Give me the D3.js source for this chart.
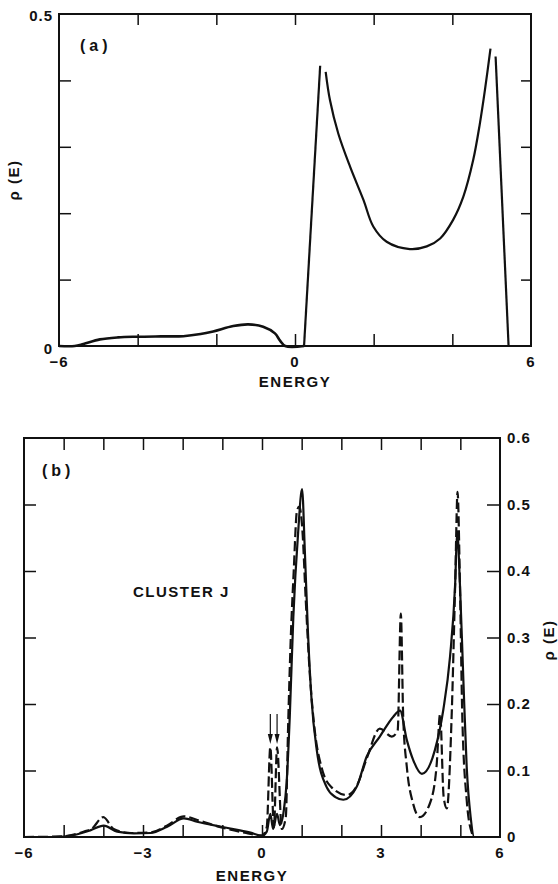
<!DOCTYPE html>
<html>
<head>
<meta charset="utf-8">
<script src="https://cdn.jsdelivr.net/npm/d3@7"></script>
<style>
	body { margin: 0; background: #fff; }
	svg text { font-family: "Liberation Sans", Arial, sans-serif; font-weight: bold; fill: #111; }
	.tick-label { font-size: 15px; letter-spacing: 1px; }
	.axis-title { font-size: 15px; letter-spacing: 1.5px; }
	.frame { fill: none; stroke: #111; stroke-width: 2; }
	.curve { fill: none; stroke: #111; stroke-width: 2.2; stroke-linejoin: round; }
	.dashed { stroke-dasharray: 10,4; }
	.axis path { display: none; }
	.axis line { stroke: #111; stroke-width: 1.5; }
</style>
</head>
<body>
<script>

////////////////////// Data //////////////////////

//Panel (a) - density of states, split where the original drawing has gaps
var aTail = [[-6,0],[-5.6,0],[-5.38,0.003],[-4.96,0.010],[-4.5,0.013],[-4.03,0.014],[-3.4,0.0145],[-2.84,0.0148],
	[-2.4,0.018],[-2.08,0.022],[-1.57,0.030],[-1.19,0.0326],[-0.81,0.029],[-0.51,0.019],[-0.38,0.008],[-0.25,0],[0.23,0]];
var aRise = [[0.23,0],[0.64,0.422]];
var aBand = [[0.78,0.413],[0.89,0.370],[1.10,0.320],[1.40,0.270],[1.74,0.220],[1.99,0.180],[2.33,0.157],[2.92,0.146],
	[3.35,0.150],[3.69,0.162],[4.02,0.190],[4.28,0.225],[4.53,0.280],[4.70,0.335],[4.83,0.386],[4.97,0.448]];
var aFall = [[5.10,0.436],[5.43,0]];

//Panel (b) - cluster J, solid and dashed curves
var bSolid = [[-6,0],[-5.2,0],[-4.75,0.003],[-4.33,0.010],[-3.99,0.017],[-3.65,0.008],[-3.23,0.0055],[-2.81,0.006],
	[-2.39,0.0155],[-1.97,0.028],[-1.64,0.023],[-0.96,0.0146],[-0.29,0.0065],[0,0.002],[0.12,0.008],[0.21,0.035],
	[0.28,0.012],[0.38,0.035],[0.45,0.018],[0.55,0.04],[0.62,0.081],[0.70,0.181],[0.79,0.331],[0.91,0.457],[1.01,0.523],
	[1.08,0.43],[1.16,0.306],[1.25,0.206],[1.38,0.131],[1.63,0.075],[1.85,0.06],[2.05,0.056],[2.39,0.076],[2.64,0.121],
	[2.97,0.151],[3.31,0.181],[3.48,0.19],[3.65,0.146],[3.81,0.116],[4.03,0.095],[4.36,0.131],[4.57,0.191],[4.74,0.271],
	[4.87,0.381],[4.92,0.46],[4.99,0.38],[5.08,0.23],[5.16,0.106],[5.26,0.03],[5.35,0],[6,0]];
var bDashed = [[-6,0],[-5.0,0.001],[-4.6,0.006],[-4.45,0.009],[-4.3,0.012],[-4.0,0.030],[-3.74,0.012],[-3.3,0.006],
	[-2.8,0.007],[-2.4,0.017],[-1.97,0.031],[-1.55,0.024],[-1.0,0.014],[-0.4,0.006],[0,0.002],[0.12,0.015],[0.21,0.135],
	[0.3,0.015],[0.38,0.135],[0.5,0.012],[0.6,0.03],[0.66,0.17],[0.72,0.29],[0.8,0.40],[0.88,0.49],[0.94,0.497],
	[1.02,0.46],[1.1,0.36],[1.2,0.25],[1.33,0.16],[1.5,0.105],[1.75,0.075],[2.14,0.063],[2.4,0.078],[2.64,0.118],
	[2.97,0.163],[3.27,0.151],[3.42,0.16],[3.5,0.336],[3.56,0.18],[3.65,0.106],[3.81,0.05],[3.98,0.03],[4.23,0.05],
	[4.4,0.106],[4.49,0.185],[4.58,0.06],[4.66,0.043],[4.78,0.18],[4.87,0.38],[4.93,0.519],[4.99,0.38],[5.05,0.18],
	[5.16,0.056],[5.29,0.006],[5.35,0],[6,0]];
//Arrows marking the two small dashed peaks
var arrowEnergies = [0.21, 0.38];

//Ticks and labels
var aXTicks = [-4,-2,0,2,4],
	aXLabels = [-6,0,6],
	aYTicks = [0.1,0.2,0.3,0.4];
var bXTicks = [-5,-4,-3,-2,-1,0,1,2,3,4,5],
	bXLabels = [-6,-3,0,3,6],
	bYTicks = [0.1,0.2,0.3,0.4,0.5],
	bYLabels = [0,0.1,0.2,0.3,0.4,0.5,0.6];

////////////////////// Setup //////////////////////

var svg = d3.select("body").append("svg")
	.attr("width", 558)
	.attr("height", 884);

var fmt = function(d) { return d < 0 ? "\u2212" + Math.abs(d) : String(d); };

/////////////////////// Panel (a) //////////////////////////

var xA = d3.scaleLinear().domain([-6,6]).range([59,531]),
	yA = d3.scaleLinear().domain([0,0.5]).range([346,14]);

var panelA = svg.append("g").attr("class", "panelA");

panelA.append("rect")
	.attr("class", "frame")
	.attr("x", xA(-6))
	.attr("y", yA(0.5))
	.attr("width", xA(6) - xA(-6))
	.attr("height", yA(0) - yA(0.5));

//Inward ticks on all four sides
panelA.append("g").attr("class", "axis")
	.attr("transform", "translate(0," + yA(0.5) + ")")
	.call(d3.axisTop(xA).tickValues(aXTicks).tickSize(-11).tickFormat(""));
panelA.append("g").attr("class", "axis")
	.attr("transform", "translate(0," + yA(0) + ")")
	.call(d3.axisBottom(xA).tickValues(aXTicks).tickSize(-12).tickFormat(""));
panelA.append("g").attr("class", "axis")
	.attr("transform", "translate(" + xA(-6) + ",0)")
	.call(d3.axisLeft(yA).tickValues(aYTicks).tickSize(-12).tickFormat(""));
panelA.append("g").attr("class", "axis")
	.attr("transform", "translate(" + xA(6) + ",0)")
	.call(d3.axisRight(yA).tickValues(aYTicks).tickSize(-10).tickFormat(""));

//Tick labels
panelA.selectAll(".x-label")
	.data(aXLabels)
	.enter().append("text")
	.attr("class", "tick-label x-label")
	.attr("x", function(d) { return xA(d); })
	.attr("y", yA(0) + 16)
	.attr("dy", "0.35em")
	.style("text-anchor", "middle")
	.text(fmt);
panelA.selectAll(".y-label")
	.data([0, 0.5])
	.enter().append("text")
	.attr("class", "tick-label y-label")
	.attr("x", xA(-6) - 6)
	.attr("y", function(d) { return yA(d) + (d === 0 ? 3 : 2); })
	.attr("dy", "0.35em")
	.style("text-anchor", "end")
	.text(function(d) { return d === 0 ? "0" : "0.5"; });

panelA.append("text")
	.attr("class", "axis-title")
	.attr("x", xA(0))
	.attr("y", 382)
	.attr("dy", "0.35em")
	.style("text-anchor", "middle")
	.text("ENERGY");

panelA.append("text")
	.attr("class", "axis-title")
	.attr("transform", "translate(14,180) rotate(-90)")
	.attr("dy", "0.35em")
	.style("text-anchor", "middle")
	.text("\u03C1 (E)");

panelA.append("text")
	.attr("class", "axis-title")
	.attr("x", 80)
	.attr("y", 45)
	.attr("dy", "0.35em")
	.style("font-size", "16px")
	.style("letter-spacing", "4px")
	.text("(a)");

//Curves
var lineA = d3.line()
	.x(function(d) { return xA(d[0]); })
	.y(function(d) { return yA(d[1]); })
	.curve(d3.curveCatmullRom.alpha(0.5));
var straightA = d3.line()
	.x(function(d) { return xA(d[0]); })
	.y(function(d) { return yA(d[1]); });

panelA.append("path").attr("class", "curve").attr("d", lineA(aTail)).style("stroke-width", 2.6);
panelA.append("path").attr("class", "curve").attr("d", straightA(aRise));
panelA.append("path").attr("class", "curve").attr("d", lineA(aBand));
panelA.append("path").attr("class", "curve").attr("d", straightA(aFall));

/////////////////////// Panel (b) //////////////////////////

var xB = d3.scaleLinear().domain([-6,6]).range([24,500]),
	yB = d3.scaleLinear().domain([0,0.6]).range([837,438]);

var panelB = svg.append("g").attr("class", "panelB");

panelB.append("rect")
	.attr("class", "frame")
	.attr("x", xB(-6))
	.attr("y", yB(0.6))
	.attr("width", xB(6) - xB(-6))
	.attr("height", yB(0) - yB(0.6));

panelB.append("g").attr("class", "axis")
	.attr("transform", "translate(0," + yB(0.6) + ")")
	.call(d3.axisTop(xB).tickValues(bXTicks).tickSize(-12).tickFormat(""));
panelB.append("g").attr("class", "axis")
	.attr("transform", "translate(0," + yB(0) + ")")
	.call(d3.axisBottom(xB).tickValues(bXTicks).tickSize(-12).tickFormat(""));
panelB.append("g").attr("class", "axis")
	.attr("transform", "translate(" + xB(-6) + ",0)")
	.call(d3.axisLeft(yB).tickValues(bYTicks).tickSize(-12).tickFormat(""));
panelB.append("g").attr("class", "axis")
	.attr("transform", "translate(" + xB(6) + ",0)")
	.call(d3.axisRight(yB).tickValues(bYTicks).tickSize(-13).tickFormat(""));

panelB.selectAll(".x-label")
	.data(bXLabels)
	.enter().append("text")
	.attr("class", "tick-label x-label")
	.attr("x", function(d) { return xB(d); })
	.attr("y", yB(0) + 16)
	.attr("dy", "0.35em")
	.style("text-anchor", "middle")
	.text(fmt);
panelB.selectAll(".y-label")
	.data(bYLabels)
	.enter().append("text")
	.attr("class", "tick-label y-label")
	.attr("x", xB(6) + 7)
	.attr("y", function(d) { return yB(d); })
	.attr("dy", "0.35em")
	.text(function(d) { return d === 0 ? "0" : d3.format(".1f")(d); });

panelB.append("text")
	.attr("class", "axis-title")
	.attr("x", 252)
	.attr("y", 876)
	.attr("dy", "0.35em")
	.style("text-anchor", "middle")
	.text("ENERGY");

panelB.append("text")
	.attr("class", "axis-title")
	.attr("transform", "translate(549,640) rotate(-90)")
	.attr("dy", "0.35em")
	.style("text-anchor", "middle")
	.text("\u03C1 (E)");

panelB.append("text")
	.attr("class", "axis-title")
	.attr("x", 42)
	.attr("y", 470)
	.attr("dy", "0.35em")
	.style("font-size", "16px")
	.style("letter-spacing", "4px")
	.text("(b)");

panelB.append("text")
	.attr("class", "axis-title")
	.attr("x", 133)
	.attr("y", 592)
	.attr("dy", "0.35em")
	.text("CLUSTER J");

var lineB = d3.line()
	.x(function(d) { return xB(d[0]); })
	.y(function(d) { return yB(d[1]); })
	.curve(d3.curveMonotoneX);

panelB.append("path").attr("class", "curve").attr("d", lineB(bSolid));
panelB.append("path").attr("class", "curve dashed").attr("d", lineB(bDashed));

//Arrows above the two small peaks
var arrows = panelB.selectAll(".arrow")
	.data(arrowEnergies)
	.enter().append("g")
	.attr("class", "arrow")
	.attr("transform", function(d) { return "translate(" + xB(d) + ",0)"; });
arrows.append("line")
	.attr("y1", yB(0.185))
	.attr("y2", yB(0.15))
	.style("stroke", "#111")
	.style("stroke-width", 1.2);
arrows.append("path")
	.attr("d", "M-2.5," + yB(0.155) + "L2.5," + yB(0.155) + "L0," + yB(0.14) + "Z")
	.style("fill", "#111");

</script>
</body>
</html>
